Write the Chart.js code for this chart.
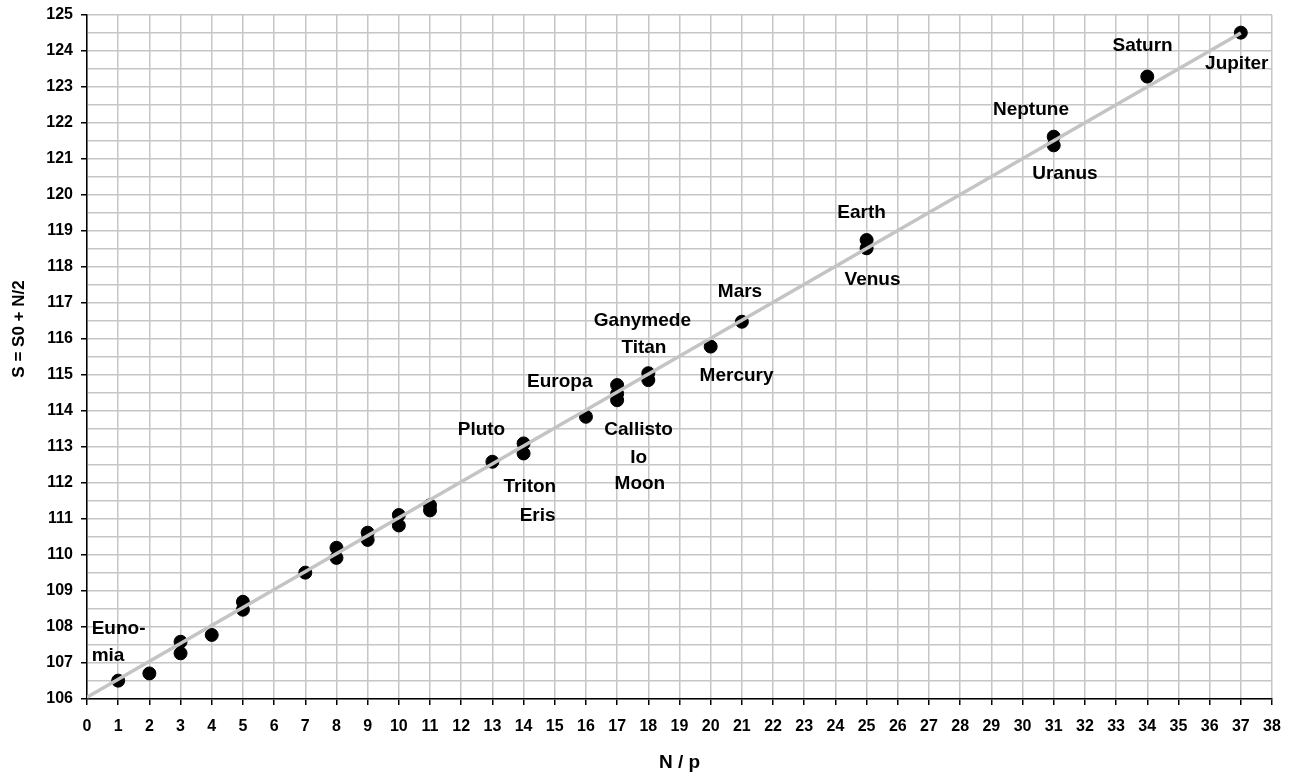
<!DOCTYPE html>
<html>
<head>
<meta charset="utf-8">
<title>S = S0 + N/2</title>
<script src="https://cdn.jsdelivr.net/npm/chart.js@4/dist/chart.umd.min.js"></script>
<style>
  html, body { margin: 0; padding: 0; background: #fff; }
  #wrap { width: 1291px; height: 776px; }
</style>
</head>
<body>
<div id="wrap"><canvas id="chart" width="1291" height="776"></canvas></div>
<script>
// --- data ---
const nValues = [1, 2, 3, 3, 4, 5, 5, 7, 8, 8, 9, 9, 10, 10, 11, 11, 13, 14, 14, 16, 17, 17, 17, 18, 18, 20, 21, 25, 25, 31, 31, 34, 37];
const sValues = [106.51, 106.71, 107.59, 107.27, 107.78, 108.7, 108.48, 109.51, 110.2, 109.92, 110.62, 110.42, 111.11, 110.82, 111.38, 111.24, 112.59, 113.1, 112.82, 113.84, 114.72, 114.48, 114.3, 115.05, 114.86, 115.79, 116.48, 118.75, 118.52, 121.62, 121.38, 123.29, 124.51];

// trend line end points
const fitN = [0, 37];
const fitS = [106.05, 124.5];

// point names, anchored in data units
const nameTexts = ['Euno-', 'mia', 'Pluto', 'Triton', 'Eris', 'Europa', 'Ganymede', 'Titan', 'Callisto', 'Io', 'Moon', 'Mars', 'Mercury', 'Earth', 'Venus', 'Neptune', 'Uranus', 'Saturn', 'Jupiter'];
const nameN = [0.15, 0.15, 12.65, 14.2, 14.45, 15.16, 17.81, 17.86, 17.69, 17.69, 17.73, 20.94, 20.83, 24.84, 25.19, 30.27, 31.36, 33.85, 36.87];
const nameS = [107.96, 107.2, 113.47, 111.9, 111.08, 114.81, 116.51, 115.76, 113.47, 112.71, 111.97, 117.31, 114.97, 119.52, 117.64, 122.36, 120.6, 124.14, 123.64];
const nameAlign = ['left', 'left', 'center', 'center', 'center', 'center', 'center', 'center', 'center', 'center', 'center', 'center', 'center', 'center', 'center', 'center', 'center', 'center', 'center'];

const xTicks = Array.from({ length: 39 }, (_, i) => i);

const FONT = 'Arial, "Liberation Sans", sans-serif';

// Noms des points + titre de l'axe Y (placé comme dans l'original)
const namesPlugin = {
    id: 'names',
    afterDatasetsDraw(chart) {
        const { ctx, scales: { x, y } } = chart;
        ctx.save();
        ctx.fillStyle = '#000';
        ctx.font = 'bold 19px ' + FONT;
        ctx.textBaseline = 'middle';
        nameTexts.forEach((txt, i) => {
            ctx.textAlign = nameAlign[i];
            ctx.fillText(txt, x.getPixelForValue(nameN[i]), y.getPixelForValue(nameS[i]));
        });
        ctx.restore();
    },
    afterDraw(chart) {
        const { ctx } = chart;
        ctx.save();
        ctx.translate(19, 329);
        ctx.rotate(-Math.PI / 2);
        ctx.fillStyle = '#000';
        ctx.font = 'bold 17px ' + FONT;
        ctx.textAlign = 'center';
        ctx.textBaseline = 'middle';
        ctx.fillText('S = S0 + N/2', 0, 0);
        ctx.restore();
    }
};

new Chart(document.getElementById('chart'), {
    type: 'scatter',
    data: {
        datasets: [
            {
                type: 'line',
                label: 'fit',
                data: fitN.map((n, i) => ({ x: n, y: fitS[i] })),
                borderColor: '#c4c4c4',
                borderWidth: 3.5,
                pointRadius: 0,
                fill: false,
                order: 0
            },
            {
                label: 'S',
                data: nValues.map((n, i) => ({ x: n, y: sValues[i] })),
                backgroundColor: '#000',
                borderColor: '#000',
                pointRadius: 6.5,
                pointHoverRadius: 6.5,
                order: 1
            }
        ]
    },
    options: {
        responsive: false,
        animation: false,
        events: [],
        layout: { padding: { top: 15, right: 19, left: 0, bottom: 0 } },
        plugins: {
            legend: { display: false },
            tooltip: { enabled: false }
        },
        scales: {
            x: {
                type: 'linear',
                min: 0,
                max: 38,
                afterBuildTicks: scale => { scale.ticks = xTicks.map(v => ({ value: v })); },
                afterFit: scale => {
                    scale.height = 77;
                    scale.paddingLeft = 0;
                    scale.paddingRight = 0;
                },
                ticks: {
                    color: '#000',
                    font: { family: FONT, size: 16, weight: 'bold' },
                    autoSkip: false,
                    maxRotation: 0,
                    padding: 12
                },
                grid: {
                    color: '#c6c6c6',
                    lineWidth: 1.5,
                    tickLength: 6,
                    tickColor: '#000'
                },
                border: { color: '#000', width: 1.5 },
                title: {
                    display: true,
                    text: 'N / p',
                    color: '#000',
                    font: { family: FONT, size: 19, weight: 'bold' },
                    padding: { top: 0, bottom: 2 }
                }
            },
            y: {
                min: 106,
                max: 125,
                afterFit: scale => {
                    scale.width = 87;
                    scale.paddingTop = 0;
                    scale.paddingBottom = 0;
                },
                ticks: {
                    stepSize: 0.5,
                    color: '#000',
                    font: { family: FONT, size: 16, weight: 'bold' },
                    autoSkip: false,
                    padding: 8,
                    callback: v => Number.isInteger(v) ? v : ''
                },
                grid: {
                    color: '#c6c6c6',
                    lineWidth: 1.5,
                    tickLength: 6,
                    tickColor: ctx => Number.isInteger(ctx.tick.value) ? '#000' : 'rgba(0,0,0,0)'
                },
                border: { color: '#000', width: 1.5 }
            }
        }
    },
    plugins: [namesPlugin]
});
</script>
</body>
</html>
